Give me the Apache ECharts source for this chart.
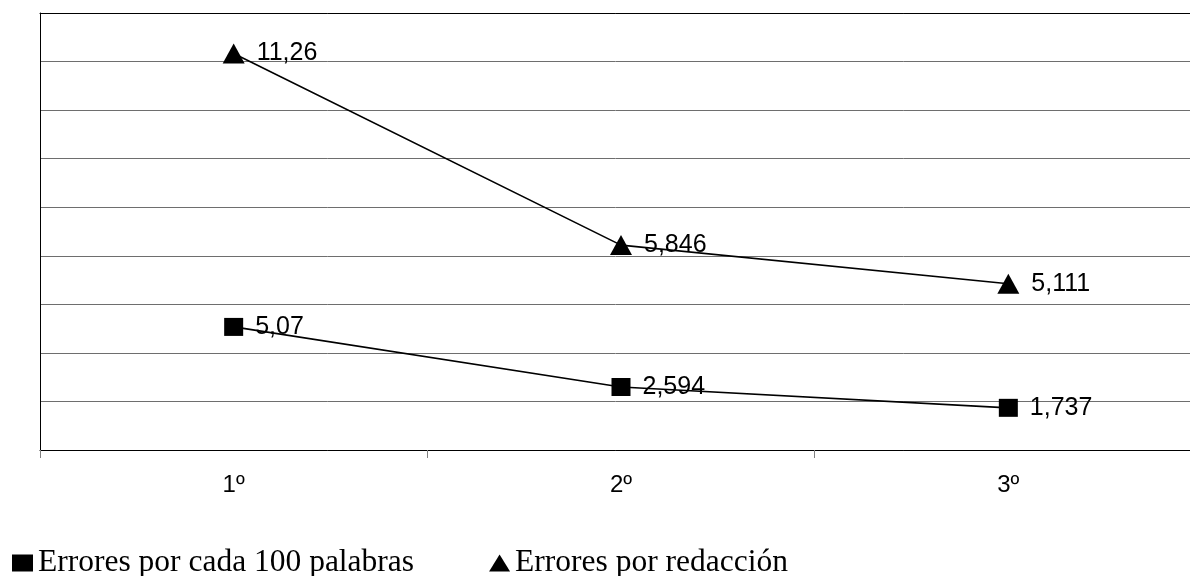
<!DOCTYPE html>
<html>
<head>
<meta charset="utf-8">
<script src="https://cdn.jsdelivr.net/npm/echarts@6/dist/echarts.min.js"></script>
<style>
html,body{margin:0;padding:0;background:#fff;}
#chart{width:1190px;height:576px;}
</style>
</head>
<body>
<div id="chart"></div>
<script>
const categories = ['1º', '2º', '3º'];
const seriesNames = ['Errores por cada 100 palabras', 'Errores por redacción'];
const erroresPorCada100 = [5.07, 2.594, 1.737];
const erroresPorRedaccion = [11.26, 5.846, 5.111];

const chart = echarts.init(document.getElementById('chart'), null, {renderer: 'canvas'});
const fmt = p => String(p.value).replace('.', ',');
const labelStyle = {
  show: true, position: 'right', distance: 12,
  color: '#000', fontFamily: 'Liberation Sans, Arial, sans-serif', fontSize: 25,
  formatter: fmt
};
chart.setOption({
  animation: false,
  backgroundColor: '#fff',
  grid: {left: 40, width: 1162, top: 13, height: 437, containLabel: false, outerBoundsMode: 'none'},
  legend: {
    left: 12, top: 547, padding: 0,
    itemWidth: 21, itemHeight: 17, itemGap: 75,
    textStyle: {color: '#000', fontFamily: 'Liberation Serif, Times New Roman, serif', fontSize: 31.5, padding: [0, 0, 8, 0]},
    data: [
      {name: seriesNames[0], icon: 'rect', itemStyle: {color: '#000'}},
      {name: seriesNames[1], icon: 'triangle', itemStyle: {color: '#000'}}
    ]
  },
  xAxis: [{
    type: 'category', data: categories, position: 'bottom', z: 5,
    axisLine: {show: true, lineStyle: {color: '#000', width: 1}},
    axisTick: {show: true, length: 8, lineStyle: {color: '#808080'}},
    axisLabel: {color: '#000', fontFamily: 'Liberation Sans, Arial, sans-serif', fontSize: 24, margin: 23}
  }, {
    type: 'category', data: categories, position: 'top', z: 5,
    axisLine: {show: true, lineStyle: {color: '#000', width: 1}},
    axisTick: {show: false}, axisLabel: {show: false}
  }],
  yAxis: {
    type: 'value', min: 0, max: 18, interval: 2,
    axisLine: {show: true, lineStyle: {color: '#000', width: 1}},
    axisTick: {show: false}, axisLabel: {show: false},
    splitLine: {show: true, lineStyle: {color: '#6e6e6e', width: 1}}
  },
  series: [{
    name: seriesNames[0], type: 'line', stack: 'total', data: erroresPorCada100,
    symbol: 'rect', symbolSize: [19, 18],
    itemStyle: {color: '#000'}, lineStyle: {color: '#000', width: 1.6},
    label: labelStyle, z: 3
  }, {
    name: seriesNames[1], type: 'line', stack: 'total', data: erroresPorRedaccion,
    symbol: 'triangle', symbolSize: [22, 20],
    itemStyle: {color: '#000'}, lineStyle: {color: '#000', width: 1.6},
    label: labelStyle, z: 3
  }]
});
</script>
</body>
</html>
